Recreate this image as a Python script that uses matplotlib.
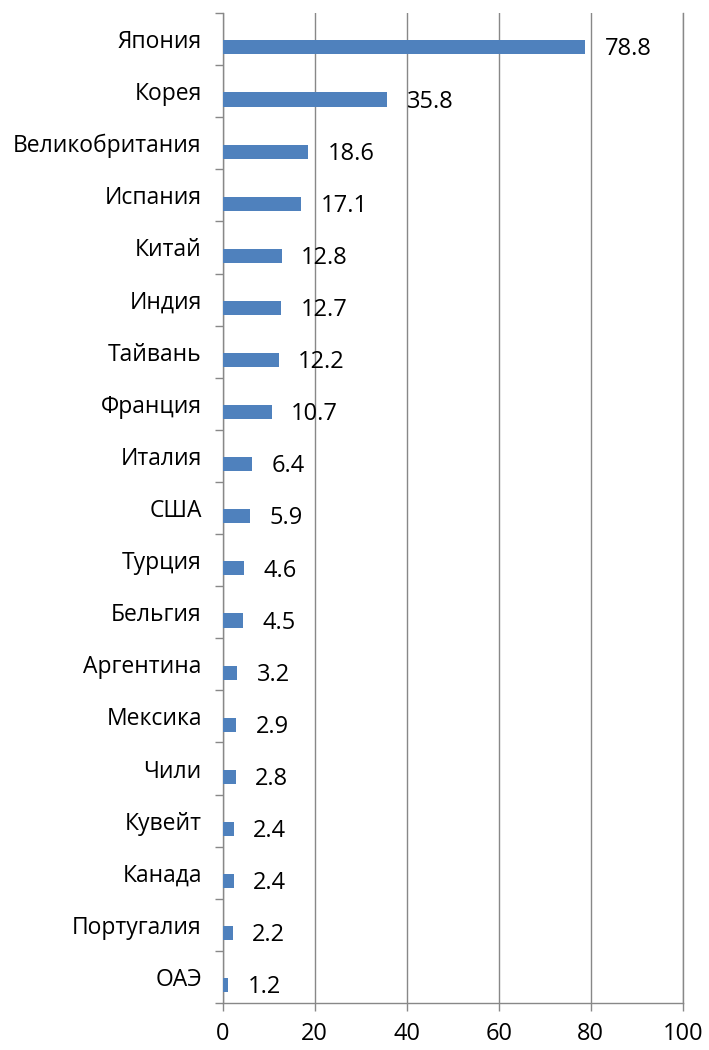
import matplotlib
matplotlib.use("Agg")
import matplotlib.pyplot as plt
import numpy as np

countries = ["Япония", "Корея", "Великобритания", "Испания", "Китай", "Индия",
             "Тайвань", "Франция", "Италия", "США", "Турция", "Бельгия",
             "Аргентина", "Мексика", "Чили", "Кувейт", "Канада", "Португалия", "ОАЭ"]
values = [78.8, 35.8, 18.6, 17.1, 12.8, 12.7, 12.2, 10.7, 6.4, 5.9, 4.6, 4.5,
          3.2, 2.9, 2.8, 2.4, 2.4, 2.2, 1.2]
xticks = [0, 20, 40, 60, 80, 100]

plt.rcParams["font.family"] = ["Open Sans", "DejaVu Sans"]
plt.rcParams["font.size"] = 17

fig = plt.figure(figsize=(7.09, 10.5), dpi=100)
ax = fig.add_axes([0.314, 0.0448, 0.649, 0.9428])

n = len(countries)
y = np.arange(n)
# bars sit a bit below the category centre (Excel style, second series empty)
bar_y = y + 0.16
ax.barh(bar_y, values, height=0.27, color="#4F81BD", zorder=3)
ax.set_ylim(n - 0.5, -0.5)
ax.set_xlim(0, 100)

for yi, v in zip(bar_y, values):
    ax.annotate(f"{v:.1f}", xy=(v, yi), xytext=(14, -1.5), textcoords="offset points",
                ha="left", va="center", fontsize=17, color="black", zorder=4)

ax.set_xticks(xticks)
ax.set_xticklabels([str(t) for t in xticks])
ax.set_yticks(y)
ax.set_yticklabels(countries, fontsize=16.5)
ax.tick_params(axis="y", length=0, pad=15)
ax.set_yticks(np.arange(n + 1) - 0.5, minor=True)
ax.tick_params(axis="y", which="minor", length=6, color="#888888", width=1)
ax.tick_params(axis="x", length=6, color="#888888", width=1, pad=8)
ax.grid(axis="x", color="#888888", lw=1, zorder=0)

ax.spines["top"].set_visible(False)
for s in ["left", "bottom", "right"]:
    ax.spines[s].set_color("#888888")
    ax.spines[s].set_linewidth(1)

fig.savefig("out.png", dpi=100, facecolor="white")
